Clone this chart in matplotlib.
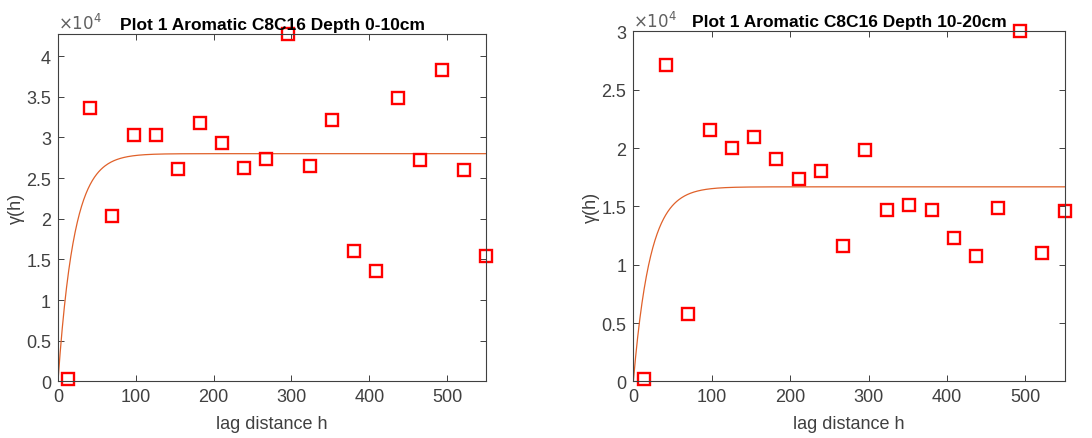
import numpy as np
import matplotlib
matplotlib.use('Agg')
import matplotlib.pyplot as plt
from matplotlib.ticker import FuncFormatter

plt.rcParams['font.family'] = ['Liberation Sans', 'DejaVu Sans']

# lag distances (same bins for both depths)
lags = [13.0, 41.3, 69.5, 97.8, 126.0, 154.3, 182.5, 210.8, 239.0, 267.3,
        295.5, 323.8, 352.0, 380.3, 408.5, 436.8, 465.0, 493.3, 521.5, 549.8]

# experimental semivariance, x1e4
gamma_0_10 = [0.028, 3.367, 2.03, 3.035, 3.028, 2.613, 3.179, 2.933, 2.629, 2.74,
              4.27, 2.654, 3.208, 1.607, 1.354, 3.49, 2.724, 3.823, 2.604, 1.538]
gamma_10_20 = [0.017, 2.714, 0.577, 2.157, 2.003, 2.097, 1.908, 1.731, 1.805, 1.162,
               1.983, 1.466, 1.511, 1.471, 1.226, 1.077, 1.485, 3.0, 1.097, 1.46]

# fitted exponential model: sill (x1e4), practical range
sill = [2.80, 1.668]
rng = [62.0, 64.0]

titles = ['Plot 1 Aromatic C8C16 Depth 0-10cm', 'Plot 1 Aromatic C8C16 Depth 10-20cm']
ytop = [4.27, 3.0]
yticks = [np.arange(0, 4.01, 0.5), np.arange(0, 3.01, 0.5)]
positions = [[0.0531, 0.129, 0.392, 0.791], [0.580, 0.129, 0.395, 0.797]]

fig = plt.figure(figsize=(10.92, 4.39), dpi=100)
gc = '#404040'
h = np.linspace(0, 550, 600)

for i, g in enumerate([gamma_0_10, gamma_10_20]):
    ax = fig.add_axes(positions[i])
    model = sill[i] * (1 - np.exp(-3 * h / rng[i]))
    ax.plot(h, np.array(model) * 1e4, color='#E0612A', lw=0.9)
    ax.plot(lags, np.array(g) * 1e4, 's', mfc='none', mec='#FF0000', ms=9, mew=1.7,
            clip_on=False)
    ax.set_xlim(0, 550)
    ax.set_ylim(0, ytop[i] * 1e4)
    ax.set_xticks([0, 100, 200, 300, 400, 500])
    ax.set_yticks(yticks[i] * 1e4)
    ax.yaxis.set_major_formatter(FuncFormatter(lambda v, p: '%g' % (v / 1e4)))
    ax.tick_params(direction='in', top=True, right=True, labelsize=13,
                   colors=gc, length=4, width=0.7, pad=5)
    for s in ax.spines.values():
        s.set_color(gc)
        s.set_linewidth(0.8)
    ax.set_title(titles[i], fontsize=12.5, fontweight='bold', pad=4)
    ax.set_xlabel('lag distance h', fontsize=13, color=gc, labelpad=7)
    ax.set_ylabel('γ(h)', fontsize=13, color=gc, labelpad=1)
    ax.text(0, 1.005, r'$\times10^{4}$', transform=ax.transAxes, ha='left', va='bottom',
            fontsize=12, color='#606060')

fig.savefig('out.png', dpi=100)
